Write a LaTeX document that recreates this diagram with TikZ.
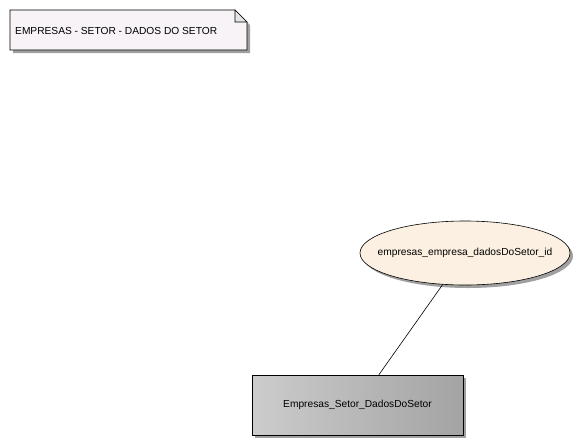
\documentclass[tikz,border=0pt]{standalone}
\usepackage{fontspec}
\setmainfont{Liberation Sans}
\usetikzlibrary{shapes.geometric,shadows}
\definecolor{notefill}{HTML}{F7F3F7}
\definecolor{ellfill}{HTML}{FBF0E1}
\definecolor{shadowgray}{HTML}{A0A0A0}
\begin{document}
\begin{tikzpicture}[x=1pt,y=-1pt,
  txt/.style={font=\fontsize{10.2}{12}\selectfont, text=black},
]
\useasboundingbox (0,0) rectangle (581,445);
% note
\fill[shadowgray] (13,13) -- (238,13) -- (250,25) -- (250,53) -- (13,53) -- cycle;
\draw[fill=notefill, line width=0.6pt] (10,10) -- (235,10) -- (247,22) -- (247,50) -- (10,50) -- cycle;
\draw[fill=white!80!gray, line width=0.6pt] (235,10) -- (235,22) -- (247,22) -- cycle;
\node[txt, anchor=west, inner sep=0] (note) at (15,31) {EMPRESAS - SETOR - DADOS DO SETOR};
% ellipse
\fill[shadowgray] (468,256) ellipse [x radius=105, y radius=32];
\node[ellipse, draw, line width=0.6pt, fill=ellfill, minimum width=210, minimum height=64, inner sep=0] (ell) at (465,253) {};
\node[txt, inner sep=0] (elltext) at (ell.center) {empresas\_empresa\_dadosDoSetor\_id};
% box
\fill[shadowgray] (255,378) rectangle (466,438);
\node[draw, line width=0.6pt, left color=black!20, right color=black!36, minimum width=211, minimum height=60, inner sep=0, txt] (box) at (357.5,405) {Empresas\_Setor\_DadosDoSetor};
\draw[line width=0.6pt] (ell) -- (box);
\end{tikzpicture}
\end{document}
